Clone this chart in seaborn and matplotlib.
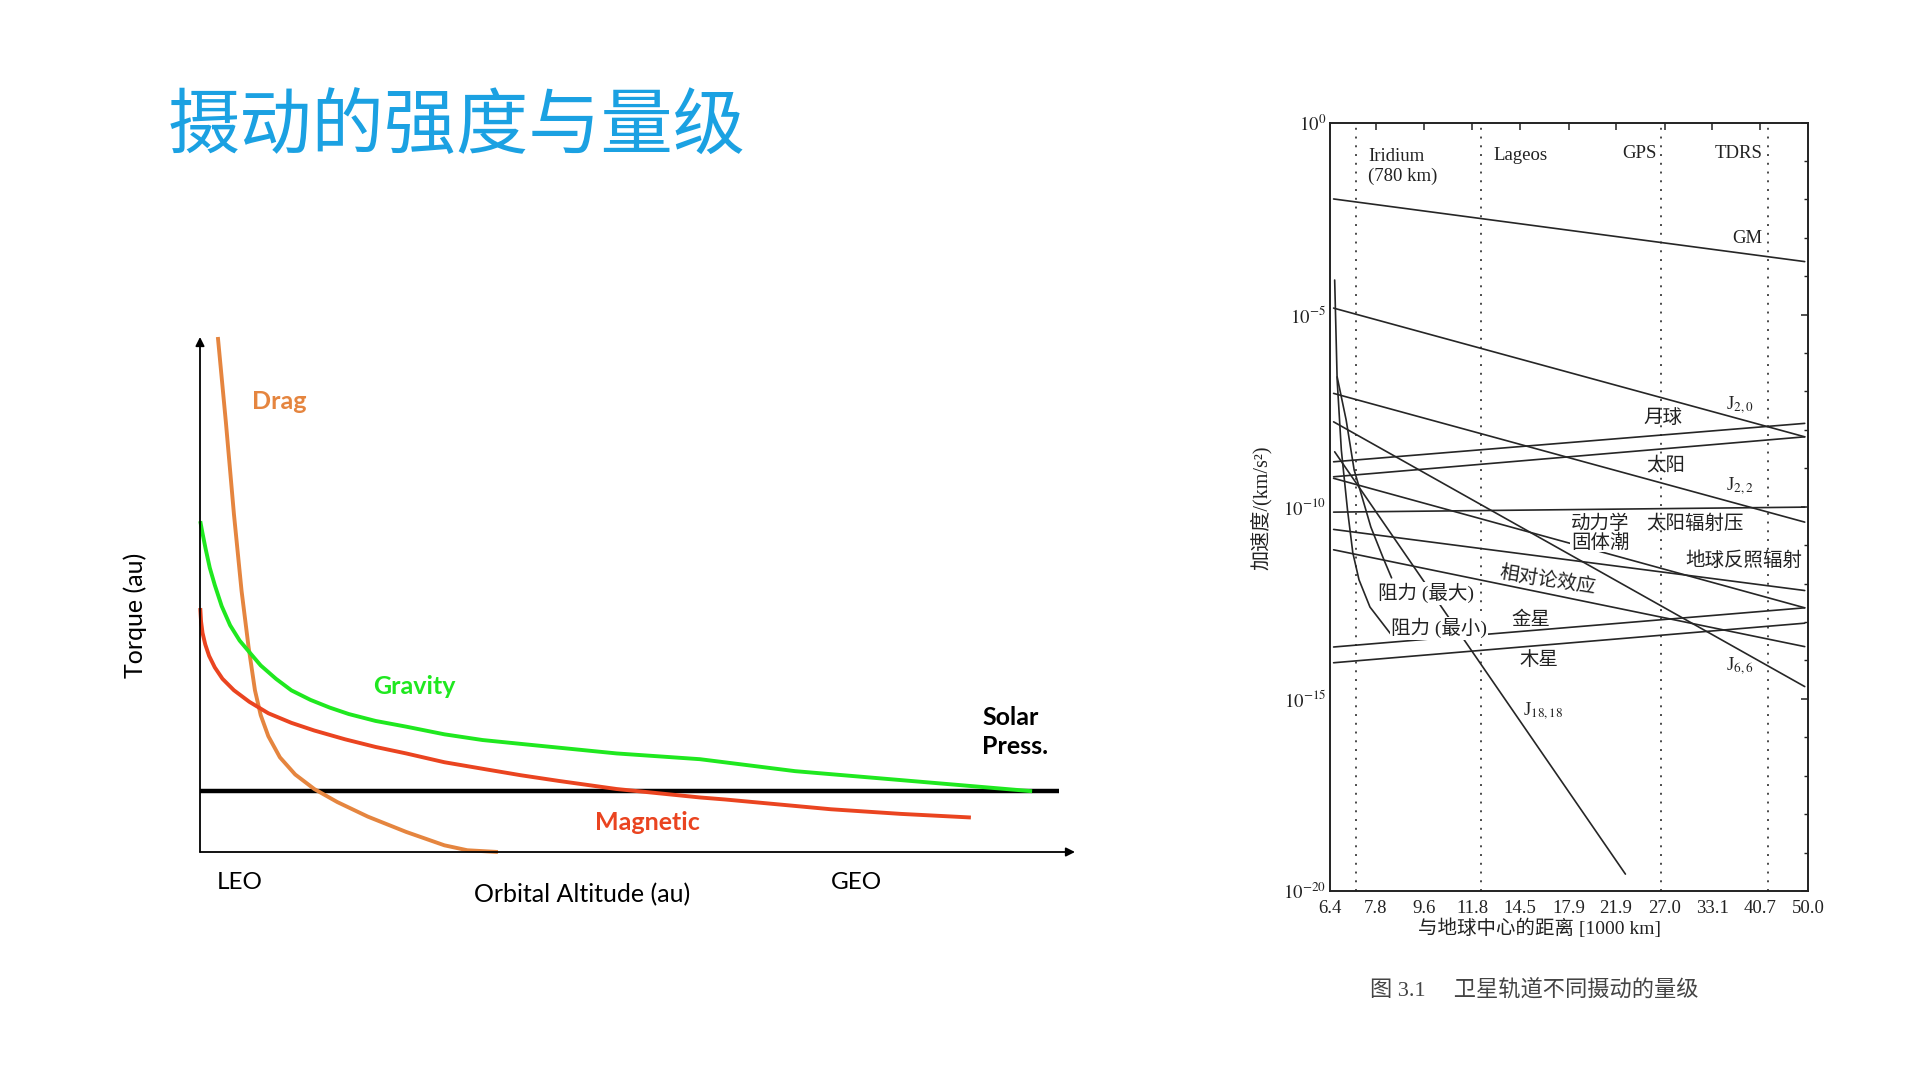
import numpy as np
import matplotlib
matplotlib.use("Agg")
import matplotlib.pyplot as plt
import seaborn as sns
from matplotlib.ticker import FixedLocator, NullLocator, NullFormatter

# ---------------- Left schematic chart (arbitrary units 0..100) ----------------
gravity_x = [0.03, 0.29, 0.64, 1.12, 1.69, 2.48, 3.44, 4.53, 5.63, 6.94, 8.69, 10.44, 12.62, 14.81,
             17.0, 20.06, 23.56, 27.93, 32.30, 36.68, 41.05, 47.61, 57.14, 68.0, 84.0, 95.1]
gravity_y = [64.24, 61.86, 58.89, 55.17, 51.83, 47.74, 44.03, 41.05, 38.83, 36.22, 33.62, 31.39, 29.54, 28.05,
             26.79, 25.45, 24.34, 22.85, 21.74, 20.99, 20.25, 19.14, 18.02, 15.7, 13.4, 11.8]

magnetic_x = [0.03, 0.12, 0.29, 0.60, 1.04, 1.69, 2.57, 3.88, 5.63, 7.81, 10.44, 13.06, 16.56, 20.06,
              23.56, 27.93, 32.30, 36.68, 41.05, 47.61, 57.14, 60.0, 72.1, 80.1, 88.1]
magnetic_y = [47.37, 44.77, 42.54, 40.31, 38.08, 35.85, 33.63, 31.40, 29.17, 26.94, 25.08, 23.59, 21.89, 20.40,
              19.14, 17.43, 16.16, 14.90, 13.79, 12.23, 10.59, 10.2, 8.3, 7.4, 6.7]

drag_x = [2.04, 2.96, 3.88, 4.75, 5.54, 6.28, 6.94, 7.81, 9.13, 10.88, 13.06, 15.69, 19.18, 23.56,
          27.93, 30.55, 34.05]
drag_y = [100.0, 83.41, 65.57, 50.71, 39.94, 31.40, 26.56, 22.48, 18.39, 15.05, 12.23, 9.70, 6.87, 3.90,
          1.30, 0.34, 0.0]

solar_x = [0, 98.2]
solar_y = [11.8, 11.8]

# ---------------- Right chart: perturbation magnitudes (log10 of km/s^2) ----------------
line_start_x = 6.5
line_end_x = 49.3
straight_names = ["GM", "J20", "J22", "J66", "moon", "sun", "tide", "srp", "albedo", "relativity", "venus", "jupiter"]
straight_start_exp = [-1.99, -4.83, -7.05, -7.79, -8.83, -9.22, -9.26, -10.14, -10.59, -11.12, -13.65, -14.06]
straight_end_exp = [-3.62, -8.18, -10.40, -14.68, -7.83, -8.18, -12.63, -10.01, -12.18, -13.64, -12.63, -13.03]

j1818_x = [6.53, 22.8]
j1818_exp = [-8.57, -19.56]

drag_max_x = [6.60, 6.86, 7.10, 7.63, 8.07, 8.34]
drag_max_exp = [-6.62, -7.74, -9.04, -10.53, -11.38, -11.85]
drag_min_x = [6.53, 6.60, 6.72, 6.90, 7.06, 7.25, 7.60, 8.34]
drag_min_exp = [-4.10, -6.70, -8.53, -10.08, -11.20, -11.90, -12.61, -13.34]

orbit_r = [7.16, 12.27, 26.56, 42.16]
orbit_names = ["Iridium\n(780 km)", "Lageos", "GPS", "TDRS"]

x_ticks = [6.4, 7.8, 9.6, 11.8, 14.5, 17.9, 21.9, 27.0, 33.1, 40.7, 50.0]
x_tick_labels = ["6.4", "7.8", "9.6", "11.8", "14.5", "17.9", "21.9", "27.0", "33.1", "40.7", "50.0"]
y_tick_exp = [-20, -15, -10, -5, 0]

# ---------------- Style ----------------
sns.set_theme(style="white")
plt.rcParams["font.family"] = ["Lato", "Noto Sans CJK SC", "DejaVu Sans"]
plt.rcParams["mathtext.fontset"] = "stix"

fig = plt.figure(figsize=(19.2, 10.8), dpi=100)
fig.patch.set_facecolor("white")

W, H = 1920.0, 1080.0

# Title
fig.text(168 / W, 1 - 128 / H, "摄动的强度与量级", fontsize=52, color="#1BA1E2",
         family=["Noto Sans CJK SC", "DejaVu Sans"], va="center", ha="left")

# ---------------- Left axes ----------------
ax1 = fig.add_axes([200 / W, (H - 852) / H, 875 / W, 515 / H])
ax1.set_xlim(0, 100)
ax1.set_ylim(0, 100)
for s in ax1.spines.values():
    s.set_visible(False)
ax1.set_xticks([])
ax1.set_yticks([])
ax1.patch.set_alpha(0)

arrow_kw = dict(arrowstyle="-|>", color="black", lw=1.3, mutation_scale=13, shrinkA=0, shrinkB=0)
ax1.annotate("", xy=(0, 1), xytext=(0, 0), xycoords="axes fraction", arrowprops=arrow_kw)
ax1.annotate("", xy=(1, 0), xytext=(0, 0), xycoords="axes fraction", arrowprops=arrow_kw)

sns.lineplot(x=solar_x, y=solar_y, ax=ax1, color="black", lw=3.2, estimator=None, sort=False)
sns.lineplot(x=drag_x, y=drag_y, ax=ax1, color="#E5853F", lw=2.8, estimator=None, sort=False)
sns.lineplot(x=magnetic_x, y=magnetic_y, ax=ax1, color="#EA4420", lw=2.8, estimator=None, sort=False)
sns.lineplot(x=gravity_x, y=gravity_y, ax=ax1, color="#1FE81F", lw=2.8, estimator=None, sort=False)
for ln in ax1.lines:
    ln.set_clip_on(False)
    ln.set_solid_capstyle("butt")
    ln.set_solid_joinstyle("round")

lbl = dict(fontsize=18, fontweight="bold", va="center", ha="center", clip_on=False)
ax1.text(9.1, 87.4, "Drag", color="#E5853F", **lbl)
ax1.text(24.5, 32.2, "Gravity", color="#1FE81F", **lbl)
ax1.text(51.1, 5.8, "Magnetic", color="#EA4420", **lbl)
ax1.text(89.4, 23.3, "Solar\nPress.", color="black", fontsize=18, fontweight="bold",
         va="center", ha="left", linespacing=1.35)
ax1.text(4.5, -6.0, "LEO", fontsize=17.5, ha="center", va="center", color="black")
ax1.text(43.7, -8.2, "Orbital Altitude (au)", fontsize=18, ha="center", va="center", color="black")
ax1.text(75.0, -6.0, "GEO", fontsize=17.5, ha="center", va="center", color="black")
ax1.text(-7.4, 46.0, "Torque (au)", fontsize=18, ha="center", va="center", rotation=90, color="black")

# ---------------- Right axes ----------------
serif = ["Liberation Serif", "Noto Sans CJK SC", "DejaVu Sans"]
ax2 = fig.add_axes([1330 / W, (H - 891) / H, 478 / W, 768.5 / H])
ax2.set_xscale("log")
ax2.set_yscale("log")
ax2.set_xlim(6.4, 50)
ax2.set_ylim(1e-20, 1)
ax2.patch.set_facecolor("white")

line_color = "#262626"
for v in orbit_r:
    ax2.axvline(v, color="#4a4a4a", lw=1.4, linestyle=(0, (1, 3.5)))

for name, e0, e1 in zip(straight_names, straight_start_exp, straight_end_exp):
    sns.lineplot(x=[line_start_x, line_end_x], y=10.0 ** np.array([e0, e1]), ax=ax2,
                 color=line_color, lw=1.2, estimator=None, sort=False)
sns.lineplot(x=j1818_x, y=10.0 ** np.array(j1818_exp), ax=ax2, color=line_color, lw=1.2,
             estimator=None, sort=False)
sns.lineplot(x=drag_max_x, y=10.0 ** np.array(drag_max_exp), ax=ax2, color=line_color, lw=1.2,
             estimator=None, sort=False)
sns.lineplot(x=drag_min_x, y=10.0 ** np.array(drag_min_exp), ax=ax2, color=line_color, lw=1.2,
             estimator=None, sort=False)

ax2.xaxis.set_major_locator(FixedLocator(x_ticks))
ax2.xaxis.set_minor_locator(NullLocator())
ax2.set_xticklabels(x_tick_labels)
ax2.yaxis.set_major_locator(FixedLocator([10.0 ** e for e in y_tick_exp]))
ax2.set_yticklabels([r"$10^{%d}$" % e for e in y_tick_exp])
ax2.yaxis.set_minor_locator(FixedLocator([10.0 ** k for k in range(-19, 0)]))
ax2.yaxis.set_minor_formatter(NullFormatter())
ax2.tick_params(which="both", direction="in", top=True, right=True, color="#222222")
ax2.tick_params(which="major", length=5, width=1.1, labelsize=13.5, labelcolor="#222222")
ax2.tick_params(axis="x", which="major", pad=6.5)
ax2.tick_params(axis="y", which="major", pad=3)
ax2.tick_params(which="minor", length=3, width=1.0)
for lab in ax2.get_xticklabels() + ax2.get_yticklabels():
    lab.set_family(serif)
for s in ax2.spines.values():
    s.set_color("#222222")
    s.set_linewidth(1.4)

ax2.set_xlabel("")
ax2.set_ylabel("")

tkw = dict(transform=ax2.transAxes, fontsize=13.5, color="#222222", family=serif, va="center")
ckw = dict(tkw, fontsize=14)
ax2.text(0.0795, 0.9428, orbit_names[0], ha="left", linespacing=1.25, **tkw)
ax2.text(0.3416, 0.9577, orbit_names[1], ha="left", **tkw)
ax2.text(0.684, 0.960, orbit_names[2], ha="right", **tkw)
ax2.text(0.9046, 0.960, orbit_names[3], ha="right", **tkw)
ax2.text(0.9046, 0.849, "GM", ha="right", **tkw)
ax2.text(0.8285, 0.6324, r"J$_{2,0}$", ha="left", **tkw)
ax2.text(0.6563, 0.6155, "月球", ha="left", **ckw)
ax2.text(0.6606, 0.5543, "太阳", ha="left", **ckw)
ax2.text(0.8285, 0.526, r"J$_{2,2}$", ha="left", **tkw)
ax2.text(0.5042, 0.4654, "动力学\n固体潮", ha="left", linespacing=1.0,
         bbox=dict(facecolor="white", edgecolor="none", pad=0.5), **ckw)
ax2.text(0.6606, 0.4784, "太阳辐射压", ha="left", **ckw)
ax2.text(0.7444, 0.4294, "地球反照辐射", ha="left", **ckw)
ax2.text(0.456, 0.4047, "相对论效应", ha="center", rotation=-9, rotation_mode="anchor", **ckw)
ax2.text(0.100, 0.3874, "阻力 (最大)", ha="left",
         bbox=dict(facecolor="white", edgecolor="none", pad=0.8), **ckw)
ax2.text(0.1276, 0.3418, "阻力 (最小)", ha="left",
         bbox=dict(facecolor="white", edgecolor="none", pad=0.8), **ckw)
ax2.text(0.3801, 0.3526, "金星", ha="left", **ckw)
ax2.text(0.3962, 0.3006, "木星", ha="left", **ckw)
ax2.text(0.8285, 0.2919, r"J$_{6,6}$", ha="left", **tkw)
ax2.text(0.4038, 0.2333, r"J$_{18,18}$", ha="left", **tkw)

fig.text(1261 / W, 1 - 508 / H, "加速度/(km/s²)", rotation=90, fontsize=14.5, color="#222222",
         family=serif, ha="center", va="center")
fig.text(1540 / W, 1 - 928 / H, "与地球中心的距离 [1000 km]", fontsize=14, color="#222222",
         family=serif, ha="center", va="center")
fig.text(1534 / W, 1 - 989.5 / H, "图 3.1     卫星轨道不同摄动的量级", fontsize=16, color="#444444",
         family=serif, ha="center", va="center")

fig.savefig("out.png", dpi=100, facecolor="white")
